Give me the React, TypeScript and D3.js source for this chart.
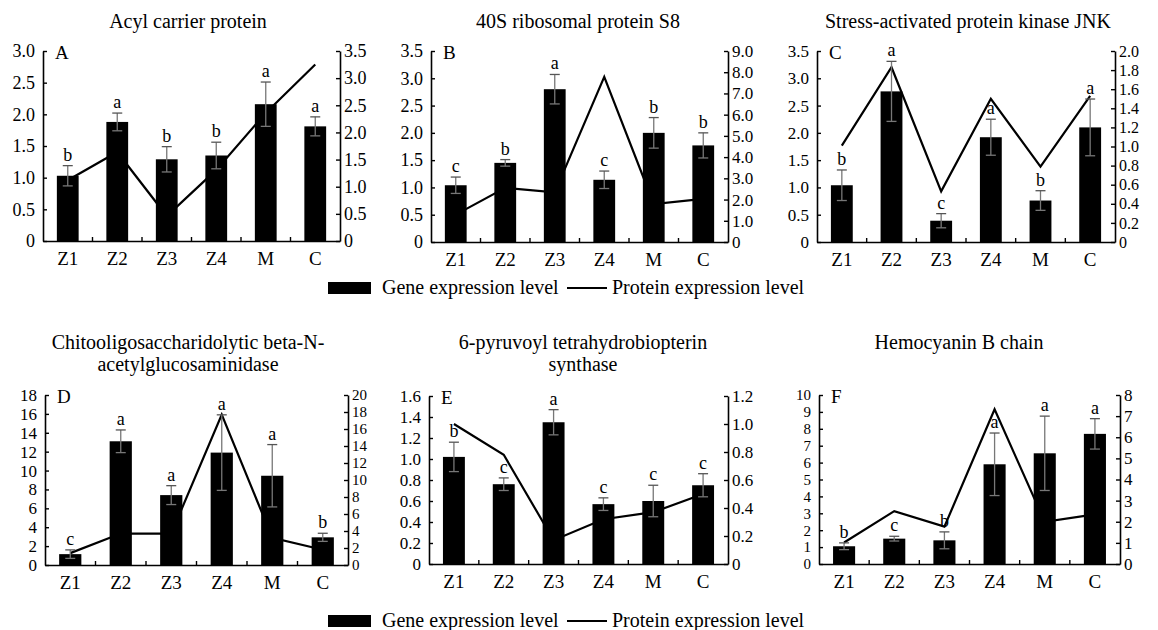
import React, { useEffect, useRef } from "react"
import * as d3 from "d3"

// categories (sampling groups)
const categories = ["Z1", "Z2", "Z3", "Z4", "M", "C"]

// A: Acyl carrier protein
const geneA = [1.03, 1.88, 1.29, 1.35, 2.16, 1.81]
const errA = [0.16, 0.14, 0.2, 0.21, 0.35, 0.15]
const protA = [1.12, 1.64, 0.46, 1.31, 2.36, 3.25]
const sigA = ["b", "a", "b", "b", "a", "a"]

// B: 40S ribosomal protein S8
const geneB = [1.04, 1.45, 2.8, 1.14, 2.0, 1.77]
const errB = [0.15, 0.06, 0.27, 0.16, 0.28, 0.23]
const protB = [1.29, 2.55, 2.34, 7.78, 1.79, 2.03]
const sigB = ["c", "b", "a", "c", "b", "b"]

// C: Stress-activated protein kinase JNK
const geneC = [1.04, 2.76, 0.39, 1.92, 0.76, 2.1]
const errC = [0.28, 0.55, 0.13, 0.33, 0.18, 0.52]
const protC = [1.01, 1.83, 0.53, 1.5, 0.79, 1.53]
const sigC = ["b", "a", "c", "a", "b", "a"]

// D: Chitooligosaccharidolytic beta-N-acetylglucosaminidase
const geneD = [1.15, 13.1, 7.4, 11.9, 9.45, 2.93]
const errD = [0.45, 1.2, 1.0, 4.0, 3.3, 0.43]
const protD = [1.4, 3.7, 3.7, 17.7, 3.2, 1.8]
const sigD = ["c", "a", "a", "a", "a", "b"]

// E: 6-pyruvoyl tetrahydrobiopterin synthase
const geneE = [1.02, 0.76, 1.35, 0.57, 0.6, 0.75]
const errE = [0.14, 0.06, 0.12, 0.06, 0.15, 0.11]
const protE = [1.0, 0.78, 0.17, 0.32, 0.37, 0.5]
const sigE = ["b", "c", "a", "c", "c", "c"]

// F: Hemocyanin B chain
const geneF = [1.05, 1.5, 1.4, 5.9, 6.55, 7.7]
const errF = [0.2, 0.14, 0.5, 1.85, 2.2, 0.9]
const protF = [1.02, 2.5, 1.77, 7.32, 2.0, 2.35]
const sigF = ["b", "c", "b", "a", "a", "a"]

// axis ranges: [max, step]
const leftAxes = [[3.0, 0.5], [3.5, 0.5], [3.5, 0.5], [18, 2], [1.6, 0.2], [10, 1]]
const rightAxes = [[3.5, 0.5], [9.0, 1.0], [2.0, 0.2], [20, 2], [1.2, 0.2], [8, 1]]
const leftFormats = [".1f", ".1f", ".1f", "d", ".1f", "d"]
const rightFormats = [".1f", ".1f", ".1f", "d", ".1f", "d"]

const titles = [
  ["Acyl carrier protein"],
  ["40S ribosomal protein S8"],
  ["Stress-activated protein kinase JNK"],
  ["Chitooligosaccharidolytic beta-N-", "acetylglucosaminidase"],
  ["6-pyruvoyl tetrahydrobiopterin", "synthase"],
  ["Hemocyanin B chain"],
]
const letters = ["A", "B", "C", "D", "E", "F"]

const legendLabels = ["Gene expression level", "Protein expression level"]

const FONT = "'Liberation Serif', 'Times New Roman', serif"

export default function App() {
  const ref = useRef<SVGSVGElement>(null)

  useEffect(() => {
    const svg = d3.select(ref.current)
    svg.selectAll("*").remove()

    const genes = [geneA, geneB, geneC, geneD, geneE, geneF]
    const errs = [errA, errB, errC, errD, errE, errF]
    const prots = [protA, protB, protC, protD, protE, protF]
    const sigs = [sigA, sigB, sigC, sigD, sigE, sigF]

    // plot frames
    const frames = [
      { x0: 43, x1: 340, y0: 51, y1: 241 },
      { x0: 431, x1: 728, y0: 51, y1: 242 },
      { x0: 817, x1: 1115, y0: 51, y1: 242 },
      { x0: 45, x1: 348, y0: 395, y1: 565 },
      { x0: 429, x1: 728, y0: 396, y1: 564 },
      { x0: 819, x1: 1120, y0: 395, y1: 564 },
    ]
    const titlePos = [
      { x: 188, y: 28 }, { x: 578, y: 28 }, { x: 968, y: 28 },
      { x: 188, y: 349 }, { x: 583, y: 349 }, { x: 959, y: 349 },
    ]
    const leftSize = [18, 18, 17, 17, 17, 15]
    const rightSize = [18, 17, 16, 15, 17, 17]

    frames.forEach((f, i) => {
      const g = svg.append("g")

      var x = d3.scaleBand()
        .domain(categories)
        .range([f.x0, f.x1])
        .paddingInner(0.56)
        .paddingOuter(0.28)
      var y = d3.scaleLinear().domain([0, leftAxes[i][0]]).range([f.y1, f.y0])
      var y2 = d3.scaleLinear().domain([0, rightAxes[i][0]]).range([f.y1, f.y0])

      const lt = d3.range(0, leftAxes[i][0] + 1e-9, leftAxes[i][1])
      const rt = d3.range(0, rightAxes[i][0] + 1e-9, rightAxes[i][1])
      const lf = d3.format(leftFormats[i])
      const rf = d3.format(rightFormats[i])

      const yAxis = d3.axisLeft(y)
        .tickValues(lt)
        .tickFormat(d => (+d === 0 ? "0" : lf(+d)))
        .tickSize(-4)
        .tickSizeOuter(0)
        .tickPadding(8)
      const yAxis2 = d3.axisRight(y2)
        .tickValues(rt)
        .tickFormat(d => (+d === 0 ? "0" : rf(+d)))
        .tickSize(-4)
        .tickSizeOuter(0)
        .tickPadding(4)
      const xAxis = d3.axisBottom(x).tickSize(0).tickSizeOuter(0).tickPadding(11)

      // bars
      g.selectAll(".bar")
        .data(genes[i])
        .enter().append("rect")
        .attr("x", (d, j) => x(categories[j]))
        .attr("y", d => y(d))
        .attr("width", x.bandwidth())
        .attr("height", d => f.y1 - y(d))
        .attr("fill", "#000")

      // protein line
      const line = d3.line<number>()
        .x((d, j) => x(categories[j]) + x.bandwidth() / 2)
        .y(d => y2(d))
      g.append("path")
        .datum(prots[i])
        .attr("d", line)
        .attr("fill", "none")
        .attr("stroke", "#000")
        .attr("stroke-width", 2.2)
        .attr("stroke-linejoin", "miter")

      // error bars
      const eb = g.selectAll(".err")
        .data(genes[i])
        .enter().append("g")
      eb.append("line")
        .attr("x1", (d, j) => x(categories[j]) + x.bandwidth() / 2)
        .attr("x2", (d, j) => x(categories[j]) + x.bandwidth() / 2)
        .attr("y1", (d, j) => y(d - errs[i][j]))
        .attr("y2", (d, j) => y(d + errs[i][j]))
        .attr("stroke", "#777")
        .attr("stroke-width", 1.3)
      eb.append("line")
        .attr("x1", (d, j) => x(categories[j]) + x.bandwidth() / 2 - 5)
        .attr("x2", (d, j) => x(categories[j]) + x.bandwidth() / 2 + 5)
        .attr("y1", (d, j) => y(d + errs[i][j]))
        .attr("y2", (d, j) => y(d + errs[i][j]))
        .attr("stroke", "#555")
        .attr("stroke-width", 1.3)
      eb.append("line")
        .attr("x1", (d, j) => x(categories[j]) + x.bandwidth() / 2 - 5)
        .attr("x2", (d, j) => x(categories[j]) + x.bandwidth() / 2 + 5)
        .attr("y1", (d, j) => y(d - errs[i][j]))
        .attr("y2", (d, j) => y(d - errs[i][j]))
        .attr("stroke", "#777")
        .attr("stroke-width", 1.3)
      eb.append("text")
        .attr("x", (d, j) => x(categories[j]) + x.bandwidth() / 2)
        .attr("y", (d, j) => y(d + errs[i][j]) - 5)
        .attr("text-anchor", "middle")
        .attr("font-family", FONT)
        .attr("font-size", 18)
        .text((d, j) => sigs[i][j])

      // axes
      const ga = g.append("g").attr("transform", "translate(" + f.x0 + ",0)").call(yAxis)
      const gb = g.append("g").attr("transform", "translate(" + f.x1 + ",0)").call(yAxis2)
      const gc = g.append("g").attr("transform", "translate(0," + f.y1 + ")").call(xAxis)
      for (const a of [ga, gb, gc]) {
        a.selectAll("path").attr("stroke", "#000").attr("stroke-width", 1.6)
        a.selectAll("line").attr("stroke", "#000").attr("stroke-width", 1.4)
        a.selectAll("text").attr("font-family", FONT).attr("fill", "#000")
      }
      ga.selectAll("text").attr("font-size", leftSize[i])
      gb.selectAll("text").attr("font-size", rightSize[i])
      gc.selectAll("text").attr("font-size", 19)

      // category separators on x axis (pointing up)
      const step = x.step()
      g.selectAll(".xt")
        .data(categories.slice(1))
        .enter().append("line")
        .attr("x1", d => x(d) - step * 0.28)
        .attr("x2", d => x(d) - step * 0.28)
        .attr("y1", f.y1)
        .attr("y2", f.y1 - 4)
        .attr("stroke", "#000")
        .attr("stroke-width", 1.4)

      // panel letter
      g.append("text")
        .attr("x", f.x0 + 12)
        .attr("y", f.y0 + 8)
        .attr("font-family", FONT)
        .attr("font-size", 19)
        .text(letters[i])

      // title
      g.append("text")
        .attr("x", titlePos[i].x)
        .attr("y", titlePos[i].y)
        .attr("text-anchor", "middle")
        .attr("font-family", FONT)
        .attr("font-size", 20)
        .selectAll("tspan")
        .data(titles[i])
        .enter().append("tspan")
        .attr("x", titlePos[i].x)
        .attr("dy", (d, k) => (k === 0 ? 0 : 22))
        .text(d => d)
    })

    // legends
    for (const ly of [288, 621]) {
      const lg = svg.append("g")
      lg.append("rect").attr("x", 328).attr("y", ly - 6).attr("width", 43).attr("height", 12).attr("fill", "#000")
      lg.append("text").attr("x", 382).attr("y", ly + 6)
        .attr("font-family", FONT).attr("font-size", 20).text(legendLabels[0])
      lg.append("line").attr("x1", 567).attr("x2", 607).attr("y1", ly).attr("y2", ly)
        .attr("stroke", "#000").attr("stroke-width", 2)
      lg.append("text").attr("x", 612).attr("y", ly + 6)
        .attr("font-family", FONT).attr("font-size", 20).text(legendLabels[1])
    }
  }, [])

  return (
    <svg
      ref={ref}
      width={1158}
      height={630}
      style={{ position: "absolute", left: 0, top: 0, background: "#fff" }}
    />
  )
}
